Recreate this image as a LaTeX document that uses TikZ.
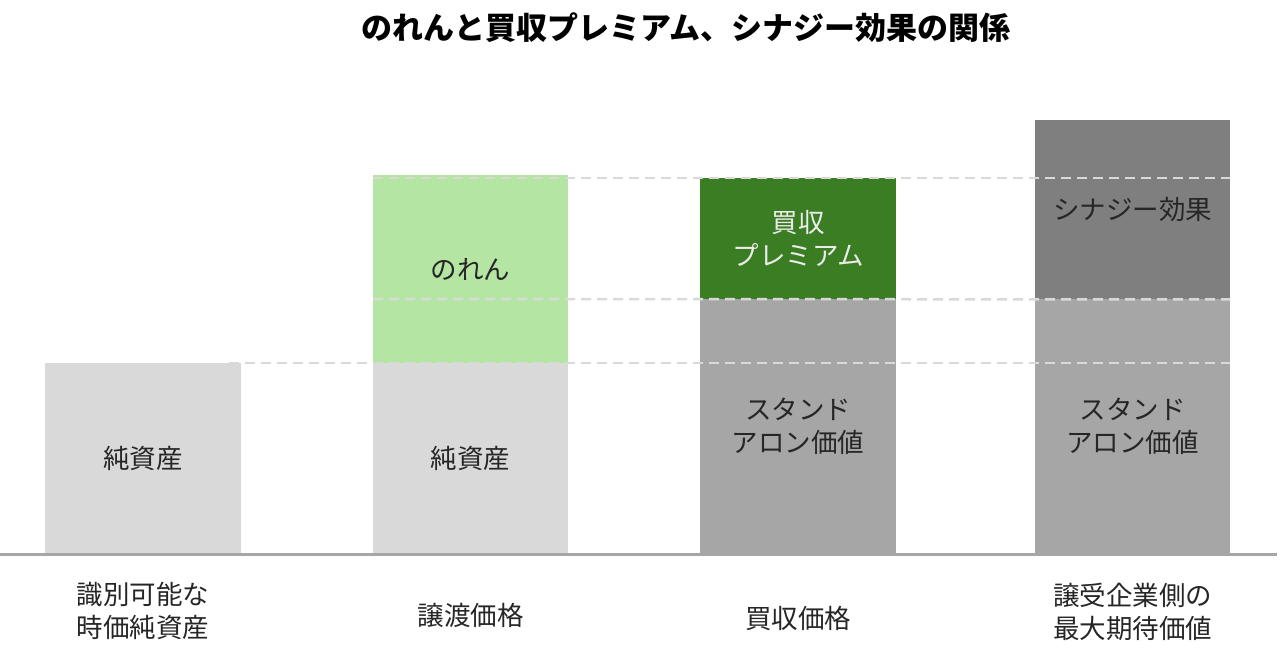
\documentclass[tikz,border=0pt]{standalone}
\usepackage{fontspec}
\setmainfont{Noto Sans CJK JP}
\usetikzlibrary{positioning}
\definecolor{lgray}{HTML}{D9D9D9}
\definecolor{mgray}{HTML}{A6A6A6}
\definecolor{dgray}{HTML}{7F7F7F}
\definecolor{lgreen}{HTML}{B5E5A3}
\definecolor{dgreen}{HTML}{3B7D23}
\definecolor{txt}{HTML}{262626}
\begin{document}
\begin{tikzpicture}[x=1pt,y=-1pt,
    seg/.style={rectangle,inner sep=0pt,anchor=north west,text=txt,
        font=\fontsize{26.5}{33}\selectfont,align=center},
    guide/.style={draw=lgray,line width=2.5pt,dash pattern=on 10pt off 6pt},
    cat/.style={text=txt,font=\fontsize{26.5}{33}\selectfont,align=center}]
    \useasboundingbox (0,0) rectangle (1280,663);

    \node[font=\fontsize{31}{36}\selectfont\bfseries] (title) at (686,28)
        {のれんと買収プレミアム、シナジー効果の関係};

    \node[seg,fill=lgray,minimum width=196pt,minimum height=190pt] (na1) at (45,363) {純資産};

    \node[seg,fill=lgray,minimum width=195pt,minimum height=190pt] (na2) at (373,363) {純資産};
    \node[seg,fill=lgreen,minimum width=195pt,minimum height=188pt] (gw) at (373,175) {のれん};

    \node[seg,fill=mgray,minimum width=196pt,minimum height=254pt] (sa3) at (700,299) {スタンド\\アロン価値};
    \node[seg,fill=dgreen,text=white!92!black,minimum width=196pt,minimum height=121pt] (pm) at (700,178) {買収\\プレミアム};

    \node[seg,fill=mgray,minimum width=195pt,minimum height=254pt] (sa4) at (1035,299) {スタンド\\アロン価値};
    \node[seg,fill=dgray,minimum width=195pt,minimum height=179pt] (sy) at (1035,120) {シナジー効果};

    \draw[guide] ([xshift=-12pt]na1.north east) -- (sy.east |- na1.north);
    \draw[guide] (gw.west |- sa3.north) -- (sy.south east);
    \draw[guide] (gw.west |- pm.north) -- (sy.east |- pm.north);

    \draw[mgray,line width=3.5pt] (0,554.5) -- (1277,554.5);

    \node[cat] (c1) at ([yshift=-58pt]na1.south) {識別可能な\\時価純資産};
    \node[cat] (c2) at ([yshift=-62pt]na2.south) {譲渡価格};
    \node[cat] (c3) at ([yshift=-65pt]sa3.south) {買収価格};
    \node[cat] (c4) at ([yshift=-59pt]sa4.south) {譲受企業側の\\最大期待価値};
\end{tikzpicture}
\end{document}
